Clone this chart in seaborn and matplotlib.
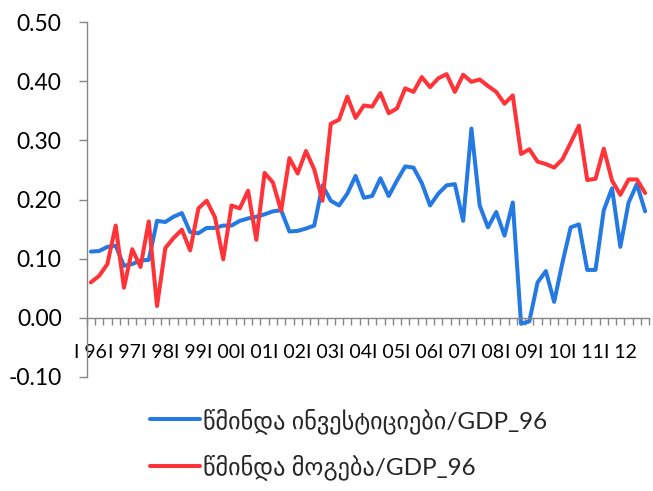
import numpy as np
import pandas as pd
import matplotlib
matplotlib.use("Agg")
import matplotlib.pyplot as plt
import seaborn as sns

# Quarterly ratios, 1996 Q1 .. 2012 Q4
years = ["96", "97", "98", "99", "00", "01", "02", "03", "04",
         "05", "06", "07", "08", "09", "10", "11", "12"]
x_labels = ["I " + y for y in years]

net_investment = [
    0.112, 0.113, 0.120, 0.122, 0.088, 0.091, 0.097, 0.098,
    0.164, 0.162, 0.171, 0.177, 0.145, 0.143, 0.152, 0.152,
    0.156, 0.156, 0.164, 0.168, 0.171, 0.175, 0.180, 0.182,
    0.146, 0.147, 0.151, 0.156, 0.224, 0.198, 0.190, 0.210,
    0.240, 0.203, 0.206, 0.236, 0.206, 0.232, 0.256, 0.254,
    0.228, 0.190, 0.210, 0.224, 0.226, 0.164, 0.320, 0.190,
    0.153, 0.179, 0.139, 0.195, -0.010, -0.006, 0.060, 0.079,
    0.027, 0.093, 0.153, 0.158, 0.081, 0.081, 0.182, 0.219,
    0.120, 0.195, 0.226, 0.180,
]
net_profit = [
    0.060, 0.071, 0.091, 0.156, 0.051, 0.116, 0.086, 0.163,
    0.020, 0.118, 0.135, 0.149, 0.114, 0.185, 0.198, 0.170,
    0.099, 0.190, 0.185, 0.215, 0.132, 0.245, 0.229, 0.181,
    0.270, 0.244, 0.282, 0.251, 0.198, 0.328, 0.335, 0.374,
    0.338, 0.359, 0.357, 0.380, 0.346, 0.354, 0.388, 0.382,
    0.407, 0.390, 0.405, 0.412, 0.382, 0.411, 0.399, 0.403,
    0.392, 0.382, 0.362, 0.376, 0.277, 0.285, 0.264, 0.260,
    0.254, 0.268, 0.296, 0.325, 0.233, 0.235, 0.286, 0.232,
    0.208, 0.234, 0.234, 0.211,
]
series_names = ["წმინდა ინვესტიციები/GDP_96", "წმინდა მოგება/GDP_96"]

y_ticks = [-0.1, 0.0, 0.1, 0.2, 0.3, 0.4, 0.5]
y_tick_labels = ["-0.10", "0.00", "0.10", "0.20", "0.30", "0.40", "0.50"]

n = len(net_investment)
df = pd.DataFrame({
    "quarter": np.tile(np.arange(n), 2),
    "value": net_investment + net_profit,
    "series": [series_names[0]] * n + [series_names[1]] * n,
})

sns.set_theme(style="white")
plt.rcParams["font.family"] = ["Lato", "DejaVu Sans"]

blue = "#2479E3"
red = "#FF3338"
axis_grey = "#868686"

fig = plt.figure(figsize=(6.53, 4.91), dpi=100)
ax = fig.add_axes([0.1328, 0.2322, 0.8615, 0.7228])

sns.lineplot(data=df, x="quarter", y="value", hue="series",
             hue_order=series_names, palette=[blue, red],
             linewidth=2.9, ax=ax, legend=False)

ax.set_xlim(-0.5, n - 0.5)
ax.set_ylim(-0.1, 0.5)
ax.set_xlabel("")
ax.set_ylabel("")

for side in ("top", "right"):
    ax.spines[side].set_visible(False)
ax.spines["bottom"].set_position(("data", 0))
for side in ("left", "bottom"):
    ax.spines[side].set_color(axis_grey)
    ax.spines[side].set_linewidth(1.0)

# quarter boundaries as tick marks, year labels at each first quarter
ax.set_xticks(np.arange(-0.5, n, 1.0))
ax.set_xticklabels([])
ax.set_xticks(np.arange(0, n, 4), x_labels, minor=True)
ax.tick_params(axis="x", which="major", direction="out", length=5,
               width=1, color=axis_grey, bottom=True)
ax.tick_params(axis="x", which="minor", length=0, pad=18.5,
               labelsize=14, labelcolor="black", bottom=True)

ax.set_yticks(y_ticks, y_tick_labels)
ax.tick_params(axis="y", direction="out", length=6, width=1,
               color=axis_grey, pad=12, labelsize=16.5, labelcolor="black",
               left=True)

handles = ax.get_lines()[:2]
fig.legend(handles, series_names, loc="upper left",
           bbox_to_anchor=(150 / 653, 1 - 408 / 491), frameon=False,
           fontsize=17.5, handlelength=2.05, handletextpad=0.12,
           labelspacing=0.85, borderaxespad=0, borderpad=0)

fig.savefig("out.png", dpi=100)
